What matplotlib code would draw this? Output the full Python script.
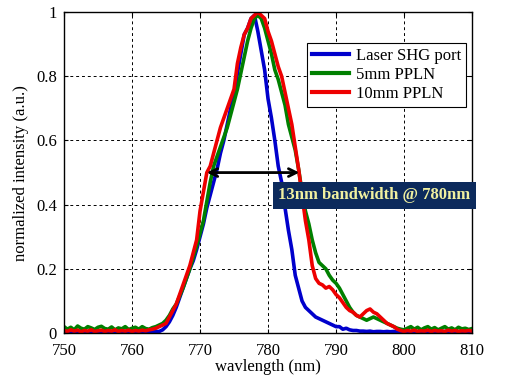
import numpy as np
import matplotlib
matplotlib.use("Agg")
import matplotlib.pyplot as plt

plt.rcParams['font.family'] = ['Liberation Serif', 'DejaVu Serif']

# wavelength grid (nm), 0.5 nm steps from 750 to 810
wavelength = np.arange(750, 810.5, 0.5)

# Laser SHG port
laser_shg = [
    0.005, 0.004, 0.006, 0.005, 0.004, 0.006, 0.005, 0.004, 0.005, 0.006,
    0.004, 0.005, 0.006, 0.004, 0.005, 0.005, 0.004, 0.006, 0.005, 0.004,
    0.005, 0.006, 0.004, 0.005, 0.004, 0.005, 0.006, 0.005,
    0.005, 0.01, 0.02, 0.035, 0.055, 0.08, 0.11, 0.14, 0.17, 0.20,
    0.225, 0.26, 0.30, 0.34, 0.39, 0.43, 0.47, 0.51, 0.56, 0.60,
    0.65, 0.70, 0.74, 0.81, 0.87, 0.93, 0.95, 0.98, 0.99, 0.94,
    0.88, 0.82, 0.73, 0.67, 0.60, 0.52, 0.47, 0.39, 0.32, 0.26,
    0.18, 0.14, 0.10, 0.08, 0.07, 0.06, 0.05, 0.045, 0.04, 0.035,
    0.03, 0.025, 0.02, 0.02, 0.012, 0.015, 0.01, 0.008, 0.008, 0.006,
    0.006, 0.005, 0.006, 0.004, 0.005, 0.005, 0.004, 0.005, 0.004, 0.005,
    0.004, 0.004, 0.005, 0.004, 0.004, 0.005, 0.004, 0.004, 0.005, 0.004,
    0.004, 0.005, 0.004, 0.004, 0.005, 0.004, 0.004, 0.005, 0.004, 0.004,
    0.004, 0.005, 0.004,
]

# 5mm PPLN
pp_5mm = [
    0.02, 0.012, 0.018, 0.01, 0.022, 0.015, 0.012, 0.02, 0.016, 0.011,
    0.018, 0.021, 0.014, 0.012, 0.019, 0.01, 0.016, 0.013, 0.02, 0.011,
    0.015, 0.018, 0.012, 0.02, 0.014, 0.012, 0.017, 0.02,
    0.025, 0.03, 0.04, 0.055, 0.075, 0.09, 0.115, 0.14, 0.17, 0.20,
    0.235, 0.27, 0.31, 0.35, 0.41, 0.47, 0.52, 0.55, 0.58, 0.61,
    0.64, 0.68, 0.72, 0.76, 0.81, 0.86, 0.91, 0.95, 0.98, 0.99,
    0.98, 0.95, 0.91, 0.87, 0.82, 0.79, 0.75, 0.71, 0.65, 0.61,
    0.57, 0.51, 0.44, 0.38, 0.34, 0.29, 0.25, 0.22, 0.21, 0.20,
    0.18, 0.165, 0.155, 0.14, 0.12, 0.10, 0.08, 0.065, 0.055, 0.05,
    0.045, 0.04, 0.045, 0.05, 0.045, 0.04, 0.035, 0.03, 0.025, 0.02,
    0.015, 0.012, 0.01, 0.015, 0.02, 0.012, 0.018, 0.01, 0.016, 0.02,
    0.012, 0.017, 0.01, 0.015, 0.02, 0.012, 0.016, 0.01, 0.018, 0.013,
    0.015, 0.011, 0.014,
]

# 10mm PPLN
pp_10mm = [
    0.008, 0.005, 0.01, 0.006, 0.009, 0.004, 0.008, 0.006, 0.01, 0.005,
    0.007, 0.009, 0.005, 0.008, 0.006, 0.01, 0.005, 0.008, 0.006, 0.009,
    0.005, 0.008, 0.006, 0.009, 0.007, 0.01, 0.012, 0.015,
    0.02, 0.025, 0.03, 0.05, 0.07, 0.09, 0.12, 0.15, 0.18, 0.21,
    0.25, 0.29, 0.38, 0.44, 0.50, 0.52, 0.56, 0.60, 0.64, 0.67,
    0.70, 0.73, 0.76, 0.84, 0.89, 0.93, 0.95, 0.98, 0.99, 1.0,
    0.99, 0.98, 0.94, 0.91, 0.87, 0.83, 0.80, 0.75, 0.70, 0.65,
    0.58, 0.51, 0.43, 0.35, 0.29, 0.21, 0.17, 0.155, 0.15, 0.14,
    0.145, 0.135, 0.12, 0.11, 0.095, 0.08, 0.07, 0.065, 0.055, 0.05,
    0.06, 0.07, 0.075, 0.065, 0.06, 0.05, 0.04, 0.03, 0.025, 0.02,
    0.012, 0.008, 0.005, 0.008, 0.006, 0.009, 0.005, 0.007, 0.006, 0.009,
    0.005, 0.008, 0.006, 0.007, 0.005, 0.009, 0.006, 0.008, 0.005, 0.007,
    0.006, 0.008, 0.006,
]

fig = plt.figure(figsize=(5.12, 3.9), dpi=100)
ax = fig.add_axes([0.125, 0.146, 0.797, 0.823])

ax.plot(wavelength, laser_shg, color='#0000cc', lw=2.6, label='Laser SHG port')
ax.plot(wavelength, pp_5mm, color='#008000', lw=2.6, label='5mm PPLN')
ax.plot(wavelength, pp_10mm, color='#ee0000', lw=2.6, label='10mm PPLN')

ax.set_xlim(750, 810)
ax.set_ylim(0, 1)
ax.set_xticks([750, 760, 770, 780, 790, 800, 810])
ax.set_yticks([0, 0.2, 0.4, 0.6, 0.8, 1])
ax.set_yticklabels(['0', '0.2', '0.4', '0.6', '0.8', '1'])
ax.tick_params(direction='in', length=3, labelsize=12, top=True, right=True)
ax.tick_params(axis='x', pad=7)
ax.tick_params(axis='y', pad=5)
ax.grid(True, color='black', linestyle=(0, (3, 3)), linewidth=0.7)
for s in ax.spines.values():
    s.set_linewidth(1.0)

ax.set_xlabel('wavlength (nm)', fontsize=12, labelpad=0)
ax.set_ylabel('normalized intensity (a.u.)', fontsize=12, labelpad=5)

leg = ax.legend(loc='upper right', bbox_to_anchor=(0.985, 0.905), fontsize=12,
                fancybox=False, framealpha=1, edgecolor='black',
                handlelength=2.2, borderpad=0.3, labelspacing=0.2,
                handletextpad=0.4, borderaxespad=0)
for line in leg.get_lines():
    line.set_linewidth(3)
leg.get_frame().set_linewidth(0.8)

# FWHM arrow and label
ax.annotate('', xy=(771.0, 0.5), xytext=(784.6, 0.5),
            arrowprops=dict(arrowstyle='<->', color='black', lw=2,
                            shrinkA=0, shrinkB=0, mutation_scale=14))
ax.text(795.6, 0.43, '13nm bandwidth @ 780nm', ha='center', va='center',
        fontsize=12, fontweight='bold', color='#f0f0a0',
        bbox=dict(facecolor='#0c2a5c', edgecolor='none', pad=4))

fig.savefig('out.png', dpi=100)
